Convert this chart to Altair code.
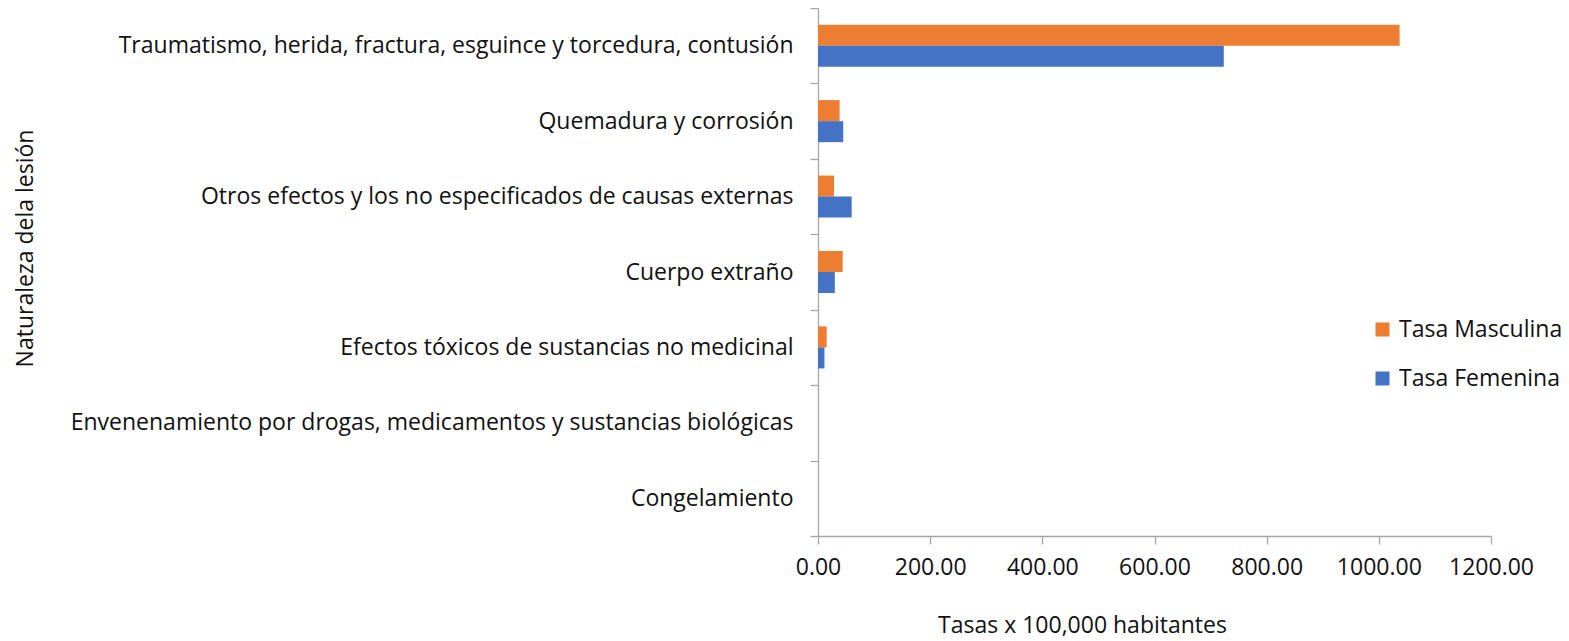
import altair as alt
import pandas as pd

categorias = [
    "Traumatismo, herida, fractura, esguince y torcedura, contusión",
    "Quemadura y corrosión",
    "Otros efectos y los no especificados de causas externas",
    "Cuerpo extraño",
    "Efectos tóxicos de sustancias no medicinal",
    "Envenenamiento por drogas, medicamentos y sustancias biológicas",
    "Congelamiento",
]
tasa_masculina = [1037.0, 38.5, 28.5, 44.0, 15.5, 0.0, 0.0]
tasa_femenina = [723.5, 45.0, 60.0, 30.0, 11.5, 0.0, 0.0]
series = ["Tasa Masculina", "Tasa Femenina"]
colores = ["#ED7D31", "#4472C4"]
ticks_x = [0, 200, 400, 600, 800, 1000, 1200]

rows = []
for c, m, f in zip(categorias, tasa_masculina, tasa_femenina):
    rows.append({"cat": c, "serie": series[0], "valor": m})
    rows.append({"cat": c, "serie": series[1], "valor": f})
df = pd.DataFrame(rows)

FONT = "Open Sans"
TXT = "#111111"
FS = 23

chart = alt.Chart(df).mark_bar().encode(
    y=alt.Y(
        "cat:N",
        sort=categorias,
        scale=alt.Scale(paddingInner=0, paddingOuter=0),
        axis=alt.Axis(
            title="Naturaleza dela lesión",
            tickBand="extent",
            labelLimit=1000,
            labelFontSize=FS,
            labelPadding=17,
            tickSize=8,
            titleFontSize=FS,
            titleFontWeight="normal",
            titleX=-793,
            titleY=240,
            titleAngle=270,
            titleBaseline="middle",
            titleAlign="center",
        ),
    ),
    yOffset=alt.YOffset(
        "serie:N", sort=series, scale=alt.Scale(paddingInner=0, paddingOuter=0.795)
    ),
    x=alt.X(
        "valor:Q",
        scale=alt.Scale(domain=[0, 1200]),
        axis=alt.Axis(
            title="Tasas x 100,000 habitantes",
            values=ticks_x,
            format=".2f",
            labelOverlap=False,
            labelFlush=False,
            labelFontSize=FS,
            labelPadding=12,
            tickSize=8,
            grid=False,
            titleFontSize=FS,
            titleFontWeight="normal",
            titleX=264,
            titleY=96,
            titleAlign="center",
            titleBaseline="alphabetic",
        ),
    ),
    color=alt.Color(
        "serie:N",
        sort=series,
        scale=alt.Scale(domain=series, range=colores),
        legend=alt.Legend(
            title=None,
            orient="none",
            legendX=553,
            legendY=310,
            symbolType="square",
            symbolSize=196,
            symbolStrokeWidth=0,
            labelFontSize=FS,
            labelLimit=400,
            rowPadding=25,
            labelOffset=5,
        ),
    ),
).properties(
    width=673,
    height=528,
    padding={"left": 810, "top": 0, "right": 70, "bottom": 104},
    autosize=alt.AutoSizeParams(type="none"),
).configure_view(stroke=None).configure_axis(
    labelFont=FONT,
    titleFont=FONT,
    labelColor=TXT,
    titleColor=TXT,
    domainColor="#A6A6A6",
    tickColor="#A6A6A6",
    domainWidth=1.3,
    tickWidth=1.3,
).configure_legend(labelFont=FONT, labelColor=TXT)

chart.save("out.html", embed_options={"renderer": "svg", "actions": False})
